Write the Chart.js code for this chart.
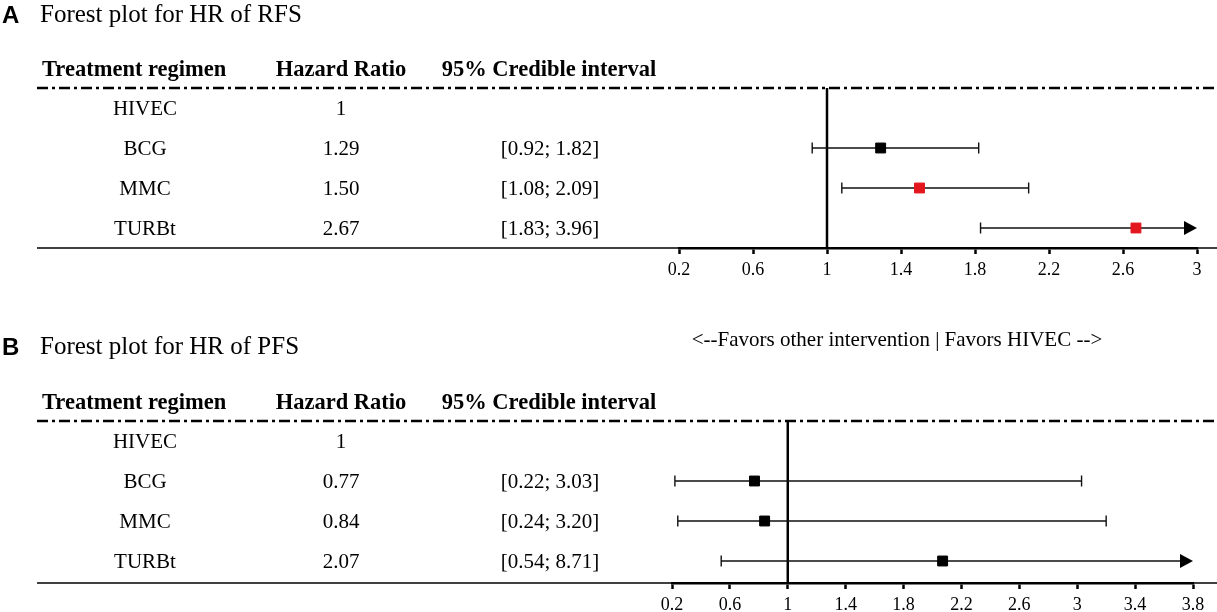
<!DOCTYPE html>
<html>
<head>
<meta charset="utf-8">
<script src="https://cdn.jsdelivr.net/npm/chart.js@4.4.0/dist/chart.umd.min.js"></script>
<style>
  body { margin: 0; background: #fff; }
  .panel { position: absolute; left: 0; width: 1217px; }
  #panelA { top: 0; height: 290px; }
  #panelB { top: 300px; height: 312px; }
</style>
</head>
<body>
<div class="panel" id="panelA"><canvas id="rfsChart"></canvas></div>
<div class="panel" id="panelB"><canvas id="pfsChart"></canvas></div>
<script>
// rows of the table
const regimens = ['HIVEC', 'BCG', 'MMC', 'TURBt'];

// A: recurrence-free survival
const rfsHR = [1, 1.29, 1.50, 2.67];
const rfsLower = [null, 0.92, 1.08, 1.83];
const rfsUpper = [null, 1.82, 2.09, 3.96];
const rfsTicks = [0.2, 0.6, 1, 1.4, 1.8, 2.2, 2.6, 3];

// B: progression-free survival
const pfsHR = [1, 0.77, 0.84, 2.07];
const pfsLower = [null, 0.22, 0.24, 0.54];
const pfsUpper = [null, 3.03, 3.20, 8.71];
const pfsTicks = [0.2, 0.6, 1, 1.4, 1.8, 2.2, 2.6, 3, 3.4, 3.8];

const SERIF = '"Liberation Serif", "Times New Roman", serif';
const RED = '#e3161e';

function makeForest(canvasId, cfg) {
	const points = [];
	const colors = [];
	cfg.hr.forEach(function (v, i) {
		if (cfg.lower[i] === null) return;
		points.push({ x: v, y: i });
		colors.push(cfg.colors[i]);
	});

	const forestPlugin = {
		id: 'forest',
		beforeDatasetsDraw(chart) {
			const ctx = chart.ctx;
			const xs = chart.scales.x, ys = chart.scales.y;
			const area = chart.chartArea;
			ctx.save();
			// thin baseline across the full width
			ctx.strokeStyle = '#000';
			ctx.lineWidth = 1.5;
			ctx.beginPath();
			ctx.moveTo(37, area.bottom);
			ctx.lineTo(chart.width, area.bottom);
			ctx.stroke();
			// dash-dot rule under the header
			ctx.lineWidth = 2.5;
			ctx.setLineDash([11, 4, 3, 4]);
			ctx.beginPath();
			ctx.moveTo(37, area.top);
			ctx.lineTo(chart.width, area.top);
			ctx.stroke();
			ctx.setLineDash([]);
			// line of no effect
			const x1 = xs.getPixelForValue(1);
			ctx.lineWidth = 2.5;
			ctx.beginPath();
			ctx.moveTo(x1, area.top);
			ctx.lineTo(x1, area.bottom);
			ctx.stroke();
			// credible intervals
			ctx.strokeStyle = '#111';
			ctx.fillStyle = '#000';
			ctx.lineWidth = 1.4;
			cfg.lower.forEach(function (lo, i) {
				if (lo === null) return;
				const hi = cfg.upper[i];
				const y = ys.getPixelForValue(i);
				const xl = xs.getPixelForValue(lo);
				const clipped = hi > xs.max;
				const xr = xs.getPixelForValue(clipped ? xs.max : hi);
				ctx.beginPath();
				ctx.moveTo(xl, y);
				ctx.lineTo(clipped ? xr - 10 : xr, y);
				ctx.moveTo(xl, y - 5.5);
				ctx.lineTo(xl, y + 5.5);
				if (!clipped) {
					ctx.moveTo(xr, y - 5.5);
					ctx.lineTo(xr, y + 5.5);
				}
				ctx.stroke();
				if (clipped) {
					ctx.beginPath();
					ctx.moveTo(xr, y);
					ctx.lineTo(xr - 13, y - 7);
					ctx.lineTo(xr - 13, y + 7);
					ctx.closePath();
					ctx.fill();
				}
			});
			ctx.restore();
		},
		afterDraw(chart) {
			const ctx = chart.ctx;
			const ys = chart.scales.y;
			const area = chart.chartArea;
			ctx.save();
			ctx.fillStyle = '#000';
			ctx.textBaseline = 'middle';
			// panel letter and title
			ctx.textAlign = 'left';
			ctx.font = 'bold 24px "Liberation Sans", Arial, sans-serif';
			ctx.fillText(cfg.letter, 2, cfg.titleY + 1);
			ctx.font = '25px ' + SERIF;
			ctx.fillText(cfg.title, 40, cfg.titleY);
			if (cfg.note) {
				ctx.textAlign = 'center';
				ctx.font = '21px ' + SERIF;
				ctx.fillText(cfg.note, 897, cfg.noteY);
			}
			// table header
			const hy = area.top - 18;
			ctx.font = 'bold 22.5px ' + SERIF;
			ctx.textAlign = 'left';
			ctx.fillText('Treatment regimen', 42, hy);
			ctx.textAlign = 'center';
			ctx.fillText('Hazard Ratio', 341, hy);
			ctx.fillText('95% Credible interval', 549, hy);
			// table rows
			ctx.font = '21px ' + SERIF;
			regimens.forEach(function (name, i) {
				const y = ys.getPixelForValue(i) + 1;
				ctx.fillText(name, 145, y);
				ctx.fillText(i === 0 ? '1' : cfg.hr[i].toFixed(2), 341, y);
				if (cfg.lower[i] !== null) {
					ctx.fillText('[' + cfg.lower[i].toFixed(2) + '; ' + cfg.upper[i].toFixed(2) + ']', 550, y);
				}
			});
			ctx.restore();
		}
	};

	return new Chart(document.getElementById(canvasId), {
		type: 'scatter',
		data: {
			datasets: [{
				data: points,
				pointStyle: 'rect',
				pointRadius: 7,
				pointBackgroundColor: colors,
				pointBorderColor: colors,
				pointBorderWidth: 1
			}]
		},
		options: {
			responsive: true,
			maintainAspectRatio: false,
			animation: false,
			layout: { padding: cfg.padding },
			plugins: {
				legend: { display: false },
				tooltip: { enabled: false }
			},
			scales: {
				x: {
					type: 'linear',
					min: cfg.ticks[0],
					max: cfg.ticks[cfg.ticks.length - 1],
					afterBuildTicks: function (s) { s.ticks = cfg.ticks.map(function (v) { return { value: v }; }); },
					afterFit: function (s) { s.height = 28; },
					grid: { drawOnChartArea: false, drawTicks: true, tickLength: 6, tickWidth: 2.5, tickColor: '#000' },
					border: { display: true, color: '#000', width: 2.5 },
					ticks: {
						padding: 5,
						color: '#000',
						autoSkip: false,
						maxRotation: 0,
						font: { family: SERIF, size: 18 },
						callback: function (v) { return String(v); }
					}
				},
				y: { type: 'linear', reverse: true, min: -0.5, max: cfg.yMax, display: false }
			}
		},
		plugins: [forestPlugin]
	});
}

document.addEventListener('DOMContentLoaded', function () {
	makeForest('rfsChart', {
		letter: 'A', title: 'Forest plot for HR of RFS', titleY: 15,
		hr: rfsHR, lower: rfsLower, upper: rfsUpper, ticks: rfsTicks,
		colors: ['#000', '#000', RED, RED],
		padding: { left: 679, right: 20, top: 88, bottom: 14 },
		yMax: 3.5
	});
	makeForest('pfsChart', {
		letter: 'B', title: 'Forest plot for HR of PFS', titleY: 47,
		note: '<--Favors other intervention | Favors HIVEC -->', noteY: 40,
		hr: pfsHR, lower: pfsLower, upper: pfsUpper, ticks: pfsTicks,
		colors: ['#000', '#000', '#000', '#000'],
		padding: { left: 672, right: 24, top: 121, bottom: 1 },
		yMax: 3.55
	});
});
</script>
</body>
</html>
